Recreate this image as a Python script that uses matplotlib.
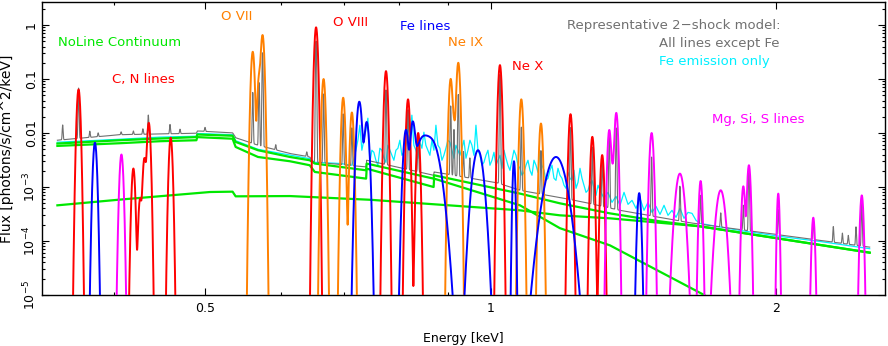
import numpy as np
import matplotlib.pyplot as plt
from matplotlib.ticker import FixedLocator, FixedFormatter, LogLocator, NullFormatter

plt.rcParams['font.family'] = ['DejaVu Sans']
plt.rcParams['mathtext.default'] = 'regular'

# ---- NoLine continua (keV, photons/s/cm^2/keV) ----
total_E = [0.349, 0.406, 0.4476, 0.4891, 0.4902, 0.534, 0.538, 0.568, 0.6138, 0.644, 0.652,
           0.7385, 0.7395, 0.870, 0.871, 1.073, 1.182, 1.335, 1.508, 1.661, 2.508]
total_F = [0.00638, 0.00735, 0.00791, 0.0084, 0.00938, 0.0089, 0.00684, 0.0048, 0.0036, 0.00313, 0.00272,
           0.00204, 0.00272, 0.00143, 0.00165, 0.000755, 0.000499, 0.000325, 0.000231, 0.000187, 6.07e-5]

cool_E = [0.349, 0.406, 0.4476, 0.4891, 0.4902, 0.534, 0.538, 0.568, 0.6138, 0.644, 0.652,
          0.7385, 0.7395, 0.870, 0.871, 1.073, 1.182, 1.335, 1.678, 1.745]
cool_F = [0.00577, 0.00647, 0.00705, 0.00735, 0.0084, 0.00784, 0.00552, 0.0036, 0.003, 0.00253, 0.0019,
          0.00143, 0.00219, 0.001, 0.00143, 0.000458, 0.000173, 8.3e-5, 1e-5, 6.6e-6]

hot_E = [0.349, 0.406, 0.5055, 0.534, 0.538, 0.6138, 0.746, 1.073, 1.182, 1.335, 1.661, 2.508]
hot_F = [0.000458, 0.000584, 0.000808, 0.00082, 0.000672, 0.00068, 0.00058, 0.00037, 0.000299,
         0.000263, 0.000187, 6.1e-5]

# ---- total model, all lines except Fe (grey) ----
gray_E = [0.349, 0.406, 0.4891, 0.4902, 0.534, 0.538, 0.568, 0.6138, 0.644, 0.6491, 0.7385, 0.7395,
          0.870, 0.871, 1.0147, 1.073, 1.241, 1.368, 1.622, 2.508]
gray_F = [0.00735, 0.0093, 0.0099, 0.0109, 0.0101, 0.00818, 0.00594, 0.00417, 0.0036, 0.00291, 0.00235,
          0.00313, 0.00165, 0.0019, 0.0012, 0.00087, 0.000543, 0.00037, 0.000217, 7.7e-5]
gray_line_E = [0.3535, 0.3674, 0.3776, 0.3853, 0.4074, 0.4197, 0.4295, 0.4352, 0.4587, 0.470,
               0.4994, 0.5608, 0.5695, 0.5743, 0.593, 0.6394, 0.654, 0.666, 0.6985, 0.7134,
               0.775, 0.8176, 0.838, 0.9068, 0.914, 0.9237, 0.9355, 0.95, 1.022, 1.0764,
               1.129, 1.213, 1.279, 1.310, 1.3327, 1.3556, 1.477, 1.582, 1.6636, 1.7468,
               1.8454, 1.8706, 2.0087, 2.187, 2.296, 2.347, 2.381, 2.426, 2.4603]
gray_line_F = [0.0066, 0.06, 0.0025, 0.0015, 0.0012, 0.0015, 0.0025, 0.012, 0.0047, 0.002,
               0.002, 0.05, 0.08, 0.3, 0.0012, 0.0008, 0.5, 0.05, 0.02, 0.01,
               0.06, 0.025, 0.008, 0.03, 0.01, 0.05, 0.003, 0.002, 0.12, 0.012,
               0.004, 0.012, 0.005, 0.003, 0.008, 0.012, 0.0033, 0.0008, 0.0005, 0.00015,
               0.0003, 0.0021, 0.00025, 0.00015, 0.00009, 0.00005, 0.00004, 0.0001, 0.0005]
gray_res = 0.001

# ---- Fe emission only (cyan) ----
fe_E = [0.349, 0.406, 0.4476, 0.4891, 0.4902, 0.534, 0.538, 0.568, 0.644, 0.652, 0.693,
        0.7134, 0.7204, 0.7274, 0.7345, 0.7417, 0.7489, 0.7562, 0.7636, 0.7711, 0.7786,
        0.7862, 0.7939, 0.8016, 0.8095, 0.8174, 0.8253, 0.8334, 0.8415, 0.8497, 0.8580,
        0.8664, 0.8749, 0.8834, 0.8920, 0.9008, 0.9096, 0.9184, 0.9274, 0.9365, 0.9456,
        0.9548, 0.9642, 0.9736, 0.9831, 0.9927, 1.0024, 1.0122, 1.0221, 1.0321, 1.0421,
        1.0523, 1.0626, 1.0730, 1.0834, 1.0940, 1.1047, 1.1155, 1.1264, 1.1374, 1.1485,
        1.1597, 1.1710, 1.1824, 1.1940, 1.2056, 1.2174, 1.2293, 1.2413, 1.2534, 1.2656,
        1.2780, 1.2905, 1.3031, 1.3158, 1.3286, 1.3416, 1.3547, 1.3679, 1.3813, 1.3948,
        1.4084, 1.4221, 1.4360, 1.4500, 1.4642, 1.4785, 1.4929, 1.5075, 1.5222, 1.5370,
        1.5520, 1.5672, 1.5825, 1.5979, 1.6135, 1.6293, 1.6452, 1.6612, 1.830, 2.016,
        2.223, 2.508]
fe_F = [0.00675, 0.00767, 0.0084, 0.00873, 0.0098, 0.0093, 0.00721, 0.005, 0.00335, 0.00287, 0.00273,
        0.00253, 0.0048, 0.01395, 0.00735, 0.01882, 0.0048, 0.00313, 0.00522, 0.00341, 0.00594,
        0.00387, 0.0048, 0.00735, 0.0044, 0.0091, 0.0214, 0.0048, 0.00675, 0.01035, 0.0048,
        0.00735, 0.01395, 0.00522, 0.00387, 0.00735, 0.0048, 0.00594, 0.00387, 0.00735, 0.0048,
        0.00594, 0.01395, 0.00387, 0.00287, 0.0048, 0.00313, 0.00253, 0.00387, 0.0048, 0.00253,
        0.00313, 0.00387, 0.00222, 0.00187, 0.00313, 0.00165, 0.00253, 0.0044, 0.00204, 0.00145,
        0.00253, 0.00133, 0.00165, 0.00108, 0.00187, 0.00133, 0.000946, 0.00222, 0.00108, 0.000869,
        0.00133, 0.000701, 0.000869, 0.000617, 0.000797, 0.00052, 0.000672, 0.000458, 0.000797, 0.000477,
        0.000566, 0.000402, 0.000617, 0.00037, 0.00052, 0.000339, 0.000438, 0.000311, 0.000458, 0.000299,
        0.00037, 0.000274, 0.000402, 0.000263, 0.000339, 0.000325, 0.000241, 0.000212, 0.000157, 0.000122,
        9.8e-5, 7.2e-5]
# extra Fe samples in the dense Fe-L forest
fe_mid_E = [0.7169, 0.7239, 0.7309, 0.7381, 0.7453, 0.7525, 0.7599, 0.7673, 0.7748, 0.7824,
            0.7900, 0.7978, 0.8055, 0.8134, 0.8214, 0.8293, 0.8375, 0.8456, 0.8538, 0.8622,
            0.8706, 0.8792, 0.8877, 0.8963, 0.9052, 0.9140, 0.9229, 0.9319, 0.9411, 0.9502,
            0.9594, 0.9689, 0.9783, 0.9879, 0.9975, 1.0073, 1.0171, 1.0271, 1.0371, 1.0472,
            1.0574, 1.0678, 1.0782, 1.0887, 1.0993, 1.1101, 1.1209, 1.1319, 1.1429, 1.1541,
            1.1653, 1.1767, 1.1882, 1.1998, 1.2115, 1.2233, 1.2353, 1.2473, 1.2595, 1.2718,
            1.2843, 1.2968]
fe_mid_F = [0.00341, 0.00735, 0.0048, 0.0113, 0.00287, 0.0044, 0.00253, 0.0048, 0.00287, 0.0048,
            0.00313, 0.00522, 0.00387, 0.00594, 0.00735, 0.00594, 0.00341, 0.00522, 0.00594, 0.00387,
            0.0048, 0.00594, 0.00313, 0.00522, 0.00675, 0.00341, 0.0048, 0.00522, 0.00341, 0.00735,
            0.00387, 0.0048, 0.00253, 0.00387, 0.00253, 0.0044, 0.00313, 0.00222, 0.00341, 0.00204,
            0.0048, 0.00253, 0.00165, 0.00253, 0.00204, 0.00313, 0.00187, 0.00253, 0.00133, 0.00204,
            0.00145, 0.00222, 0.00145, 0.000946, 0.00145, 0.00204, 0.00122, 0.00145, 0.000797, 0.00117,
            0.000946, 0.00108]

# ---- broadened line groups: centre (keV), peak flux, sigma (keV) ----
red_E = [0.3674, 0.4197, 0.4266, 0.4311, 0.4357, 0.4595, 0.654, 0.775, 0.8176, 0.838,
         1.022, 1.213, 1.279, 1.310]
red_F = [0.064, 0.0022, 0.0006, 0.0034, 0.0154, 0.0082, 0.906, 0.14, 0.042, 0.010,
         0.181, 0.0223, 0.0085, 0.0039]
red_sig = [0.00116, 0.0013, 0.00132, 0.00134, 0.00135, 0.00142, 0.002, 0.0024, 0.00253, 0.0026,
           0.00317, 0.00376, 0.00396, 0.00406]

orange_E = [0.5608, 0.5695, 0.5743, 0.666, 0.6985, 0.7134, 0.9068, 0.914, 0.9237, 1.0764, 1.129]
orange_F = [0.32, 0.11, 0.65, 0.10, 0.045, 0.024, 0.10, 0.015, 0.20, 0.042, 0.015]
orange_sig = [0.00174, 0.00177, 0.00178, 0.00206, 0.00217, 0.00221, 0.00281, 0.00283, 0.00286,
              0.00334, 0.0035]

blue_E = [0.3823, 0.7264, 0.7395, 0.8135, 0.827, 0.845, 0.866, 0.969, 1.0574, 1.171, 1.4332]
blue_F = [0.0066, 0.038, 0.016, 0.0113, 0.0146, 0.0066, 0.0068, 0.0048, 0.003, 0.0036, 0.00077]
blue_sig = [0.0013, 0.0033, 0.0033, 0.0036, 0.0036, 0.011, 0.0125, 0.0089, 0.0025, 0.0203, 0.0047]

mag_E = [0.4077, 1.3327, 1.343, 1.3556, 1.477, 1.582, 1.6636, 1.7468, 1.8454, 1.8706,
         2.0087, 2.187, 2.4603]
mag_F = [0.004, 0.0113, 0.002, 0.0236, 0.01, 0.00177, 0.00129, 0.00087, 0.00103, 0.00253,
         0.000755, 0.00027, 0.0007]
mag_sig = [0.00135, 0.0041, 0.0041, 0.0042, 0.0051, 0.0119, 0.005, 0.0138, 0.0057, 0.0058,
           0.0045, 0.0062, 0.0074]

RED, ORANGE, BLUE, MAG = '#ff0000', '#ff8000', '#0000ff', '#ff00ff'
GREEN, CYAN, GRAY = '#00e800', '#00f0ff', '#707070'

grid = np.geomspace(0.33, 2.65, 40000)


def line_sum(E0, F0, sig):
    f = np.zeros_like(grid)
    for e, a, s in zip(E0, F0, sig):
        f += a * np.exp(-0.5 * ((grid - e) / s) ** 2)
    return np.maximum(f, 1e-9)


fig = plt.figure(figsize=(8.88, 3.46), dpi=100)
ax = fig.add_axes([42 / 888, 1 - 295 / 346, 843 / 888, 293 / 346])
ax.set_xscale('log')
ax.set_yscale('log')

# cyan: Fe emission only
cE = np.array(fe_E + fe_mid_E)
cF = np.array(fe_F + fe_mid_F)
order = np.argsort(cE)
ax.plot(cE[order], cF[order], color=CYAN, lw=0.9, zorder=1)

# grey: continuum + narrow non-Fe lines
sel = (grid >= gray_E[0]) & (grid <= gray_E[-1])
gE = grid[sel]
g = 10 ** np.interp(np.log10(gE), np.log10(gray_E), np.log10(gray_F))
for e, a in zip(gray_line_E, gray_line_F):
    g = g + a * np.exp(-0.5 * ((gE - e) / (gray_res * e)) ** 2)
ax.plot(gE, g, color=GRAY, lw=0.8, zorder=2)

# green continua
for E, F in [(total_E, total_F), (cool_E, cool_F), (hot_E, hot_F)]:
    ax.plot(E, F, color=GREEN, lw=1.6, zorder=3)

# broadened line groups
for E0, F0, s, c in [(red_E, red_F, red_sig, RED), (orange_E, orange_F, orange_sig, ORANGE),
                     (blue_E, blue_F, blue_sig, BLUE), (mag_E, mag_F, mag_sig, MAG)]:
    ax.plot(grid, line_sum(E0, F0, s), color=c, lw=1.4, zorder=4)

ax.set_xlim(0.3362, 2.603)
ax.set_ylim(1e-5, 2.67)

ax.xaxis.set_major_locator(FixedLocator([0.5, 1, 2]))
ax.xaxis.set_major_formatter(FixedFormatter(['0.5', '1', '2']))
ax.xaxis.set_minor_locator(LogLocator(base=10, subs=np.arange(2, 10), numticks=20))
ax.xaxis.set_minor_formatter(NullFormatter())
ax.yaxis.set_major_locator(FixedLocator([1e-5, 1e-4, 1e-3, 1e-2, 1e-1, 1]))
ax.yaxis.set_major_formatter(FixedFormatter(['$10^{-5}$', '$10^{-4}$', '$10^{-3}$',
                                             '0.01', '0.1', '1']))
ax.yaxis.set_minor_locator(LogLocator(base=10, subs=np.arange(2, 10), numticks=20))
ax.yaxis.set_minor_formatter(NullFormatter())

ax.tick_params(which='both', direction='in', top=True, right=True, width=0.8, labelsize=9)
ax.tick_params(which='major', length=5)
ax.tick_params(which='minor', length=2.5)
ax.tick_params(axis='x', pad=5)
ax.tick_params(axis='y', pad=3)
for t in ax.get_yticklabels():
    t.set_rotation(90)
    t.set_va('center')
for sp in ax.spines.values():
    sp.set_linewidth(1.0)

ax.set_xlabel('Energy [keV]', fontsize=9, labelpad=12)
ax.set_ylabel('Flux [photons/s/cm^2/keV]', fontsize=10, labelpad=5)


def label(x, y, s, c, ha='left'):
    fig.text(x / 888, 1 - y / 346, s, color=c, fontsize=9.5, ha=ha, va='center')


label(237, 17, 'O VII', ORANGE, 'center')
label(58, 43, 'NoLine Continuum', GREEN)
label(112, 80, 'C, N lines', RED)
label(333, 22, 'O VIII', RED)
label(400, 26, 'Fe lines', BLUE)
label(448, 42, 'Ne IX', ORANGE)
label(512, 66, 'Ne X', RED)
label(567, 25, 'Representative 2\u2212shock model:', GRAY)
label(659, 43, 'All lines except Fe', GRAY)
label(659, 62, 'Fe emission only', CYAN)
label(712, 119, 'Mg, Si, S lines', MAG)

fig.savefig('out.png', dpi=100)
